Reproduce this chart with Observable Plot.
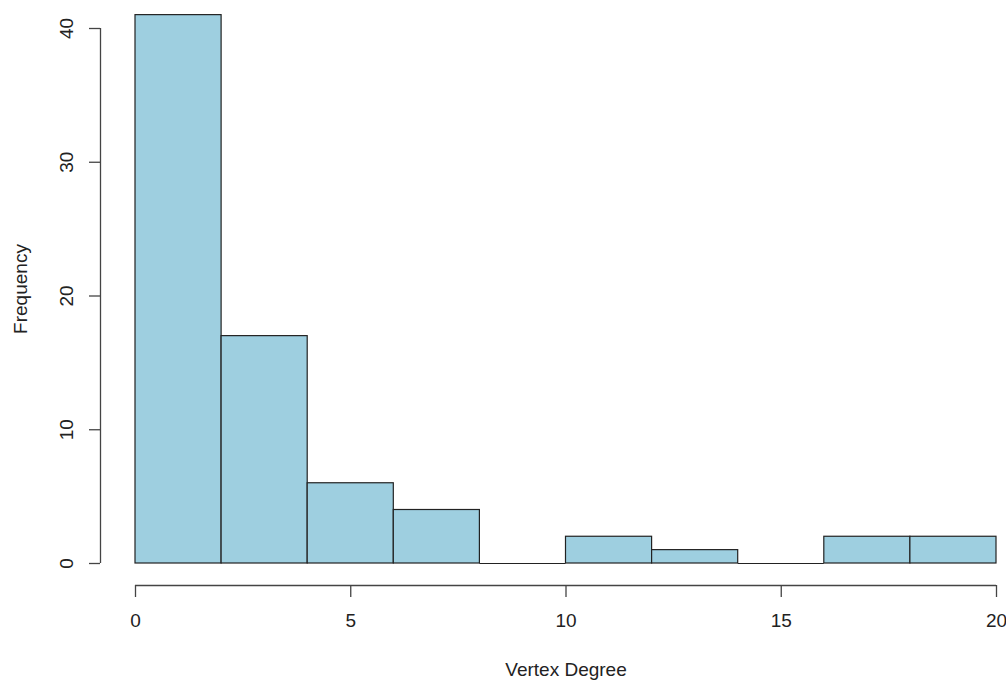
<!DOCTYPE html>
<html>
<head>
<meta charset="utf-8">
<script src="https://cdn.jsdelivr.net/npm/d3@7"></script>
<script src="https://cdn.jsdelivr.net/npm/@observablehq/plot@0.6"></script>
<style>
  html, body { margin: 0; padding: 0; background: #fff; }
  #chart svg { display: block; }
</style>
</head>
<body>
<div id="chart"></div>
<script>
// Histogram of vertex degree (bin width 2)
const binStarts = [0, 2, 4, 6, 8, 10, 12, 14, 16, 18];
const binEnds   = [2, 4, 6, 8, 10, 12, 14, 16, 18, 20];
const counts    = [41, 17, 6, 4, 0, 2, 1, 0, 2, 2];
const xTicks = [0, 5, 10, 15, 20];
const yTicks = [0, 10, 20, 30, 40];
const xLabel = "Vertex Degree";
const yLabel = "Frequency";

const bins = binStarts.map((s, i) => ({x1: s, x2: binEnds[i], count: counts[i]}));

const font = "Liberation Sans, Arial, Helvetica, sans-serif";
const axisColor = "#444";

const chart = Plot.plot({
  width: 1006,
  height: 680,
  marginLeft: 135,
  marginRight: 10,
  marginTop: 28,
  marginBottom: 117,
  style: {fontFamily: font, fontSize: "19px", color: "#222", background: "#fff"},
  x: {domain: [0, 20], ticks: xTicks},
  y: {domain: [0, 40], ticks: yTicks},
  marks: [
    Plot.rectY(bins, {x1: "x1", x2: "x2", y1: 0, y2: "count", fill: "#9ecfe0", stroke: "#222", strokeWidth: 1.2, inset: 0}),
    // empty bins are drawn as flat outlines at zero
    Plot.ruleY(bins.filter(d => d.count === 0), {x1: "x1", x2: "x2", y: "count", stroke: "#222", strokeWidth: 1.2}),
    // x axis line + ticks (offset below data, R-style)
    Plot.ruleY([0], {x1: xTicks[0], x2: xTicks[xTicks.length - 1], dy: 22, stroke: axisColor, strokeWidth: 1.3}),
    Plot.axisX({ticks: xTicks, tickSize: 12, tickPadding: 16, dy: 22, stroke: axisColor, strokeWidth: 1.3, fill: "#222", fontSize: 19, label: null}),
    // y axis line + ticks (offset left of data)
    Plot.ruleX([0], {y1: yTicks[0], y2: yTicks[yTicks.length - 1], dx: -35, stroke: axisColor, strokeWidth: 1.3}),
    Plot.axisY({ticks: yTicks, tickSize: 11, dx: -35, stroke: axisColor, strokeWidth: 1.3, tickFormat: () => "", label: null}),
    Plot.text(yTicks, {y: d => d, text: d => String(d), frameAnchor: "left", dx: -69, rotate: -90, fontSize: 19, fill: "#222", textAnchor: "middle", lineAnchor: "middle"}),
    // axis titles
    Plot.text([xLabel], {frameAnchor: "bottom", dy: 106, fontSize: 19, fill: "#222", lineAnchor: "middle"}),
    Plot.text([yLabel], {frameAnchor: "left", dx: -115, dy: -7, rotate: -90, fontSize: 19, fill: "#222", textAnchor: "middle", lineAnchor: "middle"})
  ]
});

document.getElementById("chart").appendChild(chart);
</script>
</body>
</html>
